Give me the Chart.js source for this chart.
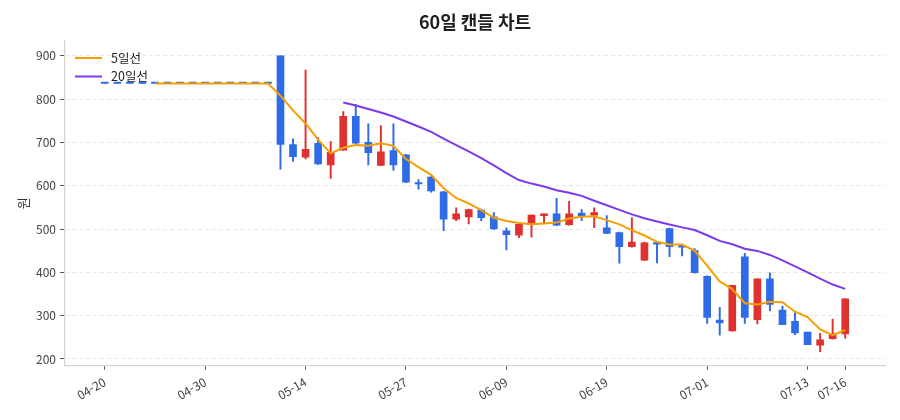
<!DOCTYPE html>
<html lang="ko">
<head>
<meta charset="utf-8">
<script src="https://cdn.jsdelivr.net/npm/chart.js@4.4.1/dist/chart.umd.min.js"></script>
<style>
  html, body { margin: 0; padding: 0; background: #ffffff; }
  #wrap { width: 900px; height: 420px; position: relative; }
</style>
</head>
<body>
<div id="wrap"><canvas id="c" width="900" height="420"></canvas></div>
<script>
// ---- data ----
const dates = ['04-20','04-21','04-22','04-23','04-24','04-27','04-28','04-29','04-30','05-04',
  '05-06','05-07','05-08','05-11','05-12','05-13','05-14','05-15','05-18','05-19',
  '05-20','05-21','05-22','05-26','05-27','05-28','05-29','06-01','06-02','06-04',
  '06-05','06-08','06-09','06-10','06-11','06-12','06-15','06-16','06-17','06-18',
  '06-19','06-22','06-23','06-24','06-25','06-26','06-29','06-30','07-01','07-02',
  '07-03','07-06','07-07','07-08','07-09','07-10','07-13','07-14','07-15','07-16'];

const openP  = [836,836,836,836,836,836,836,836,836,836,836,836,836,836,
  900,695,666,698,648,682,760,700,647,681,671,607,620,586,523,528,
  544,528,496,486,512,531,535,510,537,532,503,492,459,428,468,501,
  462,450,391,290,265,436,291,385,313,287,262,232,247,258];
const highP  = [836,836,836,836,836,836,836,836,836,836,836,836,836,836,
  900,708,867,711,702,771,788,743,739,743,672,614,621,587,549,546,
  546,538,503,512,533,535,571,564,545,549,531,493,526,470,469,502,
  463,455,392,319,370,444,385,399,322,307,262,259,292,339];
const lowP   = [836,836,836,836,836,836,836,836,836,836,836,836,836,836,
  638,656,662,649,617,682,697,648,647,635,607,592,585,496,519,512,
  519,499,452,480,481,513,508,509,519,503,489,421,458,427,422,436,
  438,398,282,255,264,282,281,311,279,256,233,217,246,248];
const closeP = [836,836,836,836,836,836,836,836,836,836,836,836,836,836,
  695,667,684,650,677,760,698,676,678,648,608,604,588,523,535,545,
  526,500,487,511,532,535,509,535,531,538,490,459,470,468,465,459,
  458,399,296,283,370,296,385,326,279,260,233,244,258,339];

const tickIdx = [0, 8, 16, 24, 32, 40, 48, 56, 59];
const yTicks = [200, 300, 400, 500, 600, 700, 800, 900];
const titleText = '60일 캔들 차트';
const yTitle = '원';
const ma5Label = '5일선';
const ma20Label = '20일선';

// ---- derived ----
function sma(n) {
  return closeP.map((_, i) => {
    if (i < n - 1) return null;
    let s = 0;
    for (let k = i - n + 1; k <= i; k++) s += closeP[k];
    return s / n;
  });
}
const ma5 = sma(5);
const ma20 = sma(20);

const UP = '#e03131';
const DOWN = '#2f6be6';
const candleColor = dates.map((_, i) => closeP[i] > openP[i] ? UP : DOWN);

const bodies = dates.map((_, i) => ({ x: i, y: [openP[i], closeP[i]] }));
const wicks = dates.map((_, i) => ({ x: i, y: [lowP[i], highP[i]] }));
const ma5Pts = ma5.map((v, i) => ({ x: i, y: v })).filter(p => p.y !== null);
const ma20Pts = ma20.map((v, i) => ({ x: i, y: v })).filter(p => p.y !== null);

const FONT = "'Noto Sans CJK KR', 'Noto Sans', sans-serif";
const ORANGE = '#f59f00';
const PURPLE = '#7c3aed';

const overlay = {
  id: 'overlay',
  afterDraw(chart) {
    const { ctx, chartArea } = chart;
    ctx.save();
    // title
    ctx.fillStyle = '#1f1f1f';
    ctx.font = "bold 18px " + FONT;
    ctx.textAlign = 'center';
    ctx.textBaseline = 'middle';
    ctx.fillText(titleText, (chartArea.left + chartArea.right) / 2, 22);
    // legend
    const items = [[ma5Label, ORANGE], [ma20Label, PURPLE]];
    ctx.font = "12.5px " + FONT;
    ctx.textAlign = 'left';
    items.forEach((it, k) => {
      const y = chartArea.top + 17 + k * 18.5;
      ctx.strokeStyle = it[1];
      ctx.lineWidth = 2;
      ctx.beginPath();
      ctx.moveTo(chartArea.left + 10, y);
      ctx.lineTo(chartArea.left + 37, y);
      ctx.stroke();
      ctx.fillStyle = '#222';
      ctx.fillText(it[0], chartArea.left + 46, y);
    });
    ctx.restore();
  }
};

new Chart(document.getElementById('c'), {
  type: 'bar',
  data: {
    datasets: [
      { type: 'line', label: ma5Label, data: ma5Pts, borderColor: ORANGE, borderWidth: 2,
        pointRadius: 0, tension: 0, fill: false, order: 0 },
      { type: 'line', label: ma20Label, data: ma20Pts, borderColor: PURPLE, borderWidth: 2,
        pointRadius: 0, tension: 0, fill: false, order: 0 },
      { type: 'bar', label: 'body', data: bodies, backgroundColor: candleColor,
        barThickness: 7, minBarLength: 1.5, grouped: false, order: 1, borderWidth: 0 },
      { type: 'bar', label: 'wick', data: wicks, backgroundColor: candleColor,
        barThickness: 1.3, grouped: false, order: 2, borderWidth: 0 }
    ]
  },
  options: {
    responsive: false,
    animation: false,
    layout: { padding: { top: 41, right: 15, left: 0, bottom: 0 } },
    plugins: { legend: { display: false }, tooltip: { enabled: false }, title: { display: false } },
    scales: {
      x: {
        type: 'linear',
        min: -3.17, max: 62.17,
        offset: false,
        afterBuildTicks: (s) => { s.ticks = tickIdx.map(v => ({ value: v })); },
        afterFit: (s) => { s.height = 54.3; },
        ticks: {
          autoSkip: false, minRotation: 30, maxRotation: 30,
          color: '#444', font: { family: FONT, size: 12 }, padding: 5,
          callback: (v) => dates[v] !== undefined ? dates[v] : ''
        },
        grid: { offset: false, drawOnChartArea: false, drawTicks: true, tickLength: 4, tickColor: '#555', tickWidth: 1 },
        border: { display: true, color: '#d4d4d8', width: 1.2 }
      },
      y: {
        type: 'linear',
        min: 184.5, max: 934,
        afterBuildTicks: (s) => { s.ticks = yTicks.map(v => ({ value: v })); },
        afterFit: (s) => { s.width = 65; },
        ticks: { color: '#444', font: { family: FONT, size: 12 }, padding: 4 },
        grid: { offset: false, color: '#e6e6e6', lineWidth: 1, drawTicks: true, tickLength: 5, tickColor: '#555', tickBorderDash: [] },
        border: { display: true, color: '#d4d4d8', width: 1.2, dash: [4, 3] },
        title: { display: true, text: yTitle, color: '#333', font: { family: FONT, size: 13 }, padding: { top: 15, bottom: 0 } }
      }
    }
  },
  plugins: [overlay]
});
</script>
</body>
</html>
